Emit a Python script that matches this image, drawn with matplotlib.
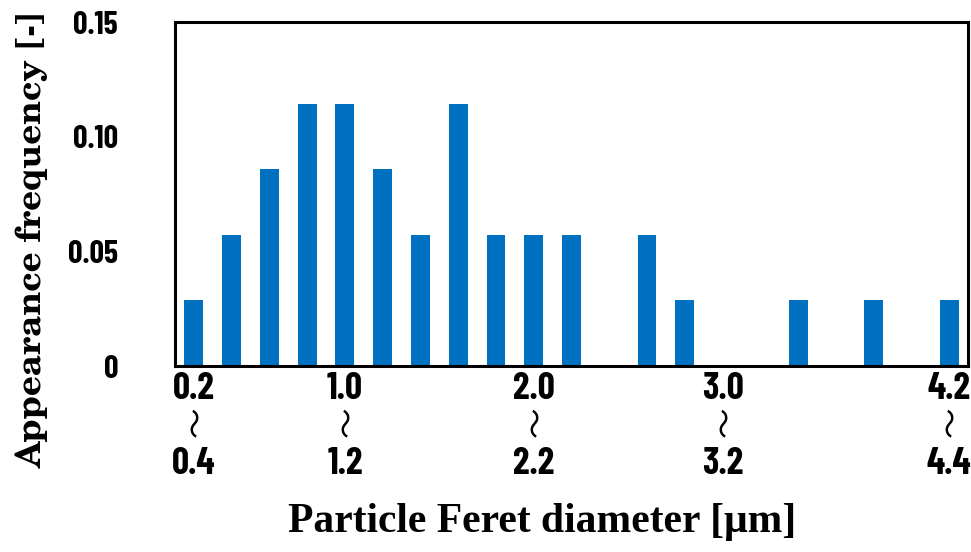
import matplotlib
matplotlib.use("Agg")
import matplotlib.pyplot as plt
import matplotlib.transforms as mtransforms

# 粒子径ビン（下限値）と出現頻度（35個中の個数）
bin_lower = [0.2, 0.4, 0.6, 0.8, 1.0, 1.2, 1.4, 1.6, 1.8, 2.0, 2.2,
             2.4, 2.6, 2.8, 3.0, 3.2, 3.4, 3.6, 3.8, 4.0, 4.2]
counts = [1, 2, 3, 4, 4, 3, 2, 4, 2, 2, 2, 0, 2, 1, 0, 0, 1, 0, 1, 0, 1]
total = 35
frequency = [c / total for c in counts]

# 目盛りを付けるビン
label_bins = [0.2, 1.0, 2.0, 3.0, 4.2]
y_ticks = [0, 0.05, 0.10, 0.15]
y_ticklabels = ['0', '0.05', '0.10', '0.15']

narrow = ['Barlow Condensed', 'DejaVu Sans']
ytick_font = dict(family=narrow, weight='bold', size=23)
xtick_font = dict(family=narrow, weight='bold', size=27)

fig = plt.figure(figsize=(9.71, 5.52), dpi=100)
ax = fig.add_axes([175 / 971, 1 - 366 / 552, 793 / 971, 344 / 552])

x = list(range(len(bin_lower)))
ax.bar(x, frequency, width=0.5, color='#0070C0')

ax.set_xlim(-0.5, len(bin_lower) - 0.5)
ax.set_ylim(0, 0.15)

ax.set_yticks(y_ticks)
ax.set_yticklabels(y_ticklabels, **ytick_font)
ax.tick_params(axis='y', length=0, pad=57 * 0.72)
ax.set_xticks([])

for side in ax.spines.values():
    side.set_linewidth(2.2)
    side.set_color('black')

# x軸ラベル「下限 ～ 上限」の3段表示（～は縦向き）
trans = mtransforms.blended_transform_factory(ax.transData, ax.transAxes)
for lo in label_bins:
    i = bin_lower.index(lo)
    hi = lo + 0.2
    ax.text(i, -0.067, f'{lo:.1f}', transform=trans, ha='center', va='center', **xtick_font)
    ax.text(i + 0.08, -0.163, '～', transform=trans, ha='center', va='center', rotation=90,
            family=['Noto Sans CJK JP', 'DejaVu Sans'], size=22)
    ax.text(i, -0.285, f'{hi:.1f}', transform=trans, ha='center', va='center', **xtick_font)

fig.text(542 / 971, 1 - 522 / 552, 'Particle Feret diameter [μm]',
         ha='center', va='center', family='Liberation Serif', weight='bold', size=30)
fig.text(32 / 971, 1 - 239 / 552, 'Appearance frequency [-]', rotation=90,
         ha='center', va='center', family=['C059', 'TeX Gyre Schola', 'DejaVu Serif'],
         weight='bold', size=25)

fig.savefig('out.png', dpi=100)
